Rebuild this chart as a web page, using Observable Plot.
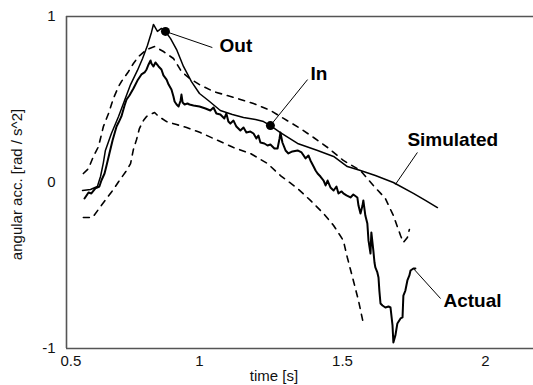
<!DOCTYPE html>
<html><head><meta charset="utf-8">
<script src="https://cdn.jsdelivr.net/npm/d3@7"></script>
<script src="https://cdn.jsdelivr.net/npm/@observablehq/plot@0.6"></script>
<style>body{margin:0;background:#fff}</style>
</head><body><div id="chart"></div>
<script>
// ---- axes ----
const xDomain = [0.535, 2.168];
const yDomain = [-1, 1];
const xTicks = [1, 1.5, 2];
const yTicks = [-1, 0, 1];
const firstXTickLabel = "0.5";
const xLabel = "time [s]";
const yLabel = "angular acc. [rad / s^2]";

// ---- Simulated (solid thin) ----
const simX = [0.591,0.619,0.643,0.654,0.664,0.671,0.692,0.717,0.738,0.759,0.783,0.801,0.818,0.832,0.839,0.853,0.867,0.881,0.899,0.920,0.944,0.972,1.000,1.031,1.073,1.115,1.154,1.196,1.224,1.248,1.283,1.343,1.413,1.469,1.517,1.563,1.615,1.678,1.748,1.790,1.832];
const simY = [-0.048,-0.042,-0.024,0.036,0.120,0.193,0.295,0.398,0.494,0.590,0.675,0.747,0.825,0.904,0.952,0.910,0.928,0.910,0.867,0.801,0.699,0.608,0.536,0.494,0.434,0.410,0.392,0.380,0.367,0.343,0.301,0.235,0.193,0.157,0.096,0.072,0.042,0.000,-0.066,-0.108,-0.151];

// ---- Actual (jagged thick) ----
const actX = [0.598,0.612,0.622,0.636,0.650,0.657,0.668,0.675,0.685,0.696,0.710,0.717,0.727,0.738,0.745,0.755,0.769,0.783,0.797,0.808,0.815,0.822,0.829,0.832,0.839,0.846,0.857,0.867,0.874,0.885,0.892,0.902,0.909,0.913,0.920,0.927,0.934,0.937,0.941,0.948,0.958,0.965,0.979,1.000,1.021,1.038,1.049,1.059,1.073,1.087,1.094,1.101,1.108,1.119,1.129,1.143,1.154,1.164,1.178,1.189,1.199,1.206,1.213,1.227,1.238,1.248,1.262,1.273,1.280,1.283,1.290,1.301,1.311,1.325,1.343,1.357,1.371,1.381,1.388,1.399,1.406,1.413,1.423,1.434,1.441,1.448,1.458,1.469,1.479,1.486,1.497,1.503,1.514,1.528,1.538,1.552,1.556,1.563,1.570,1.573,1.580,1.587,1.591,1.598,1.601,1.608,1.612,1.615,1.622,1.626,1.629,1.633,1.640,1.650,1.661,1.668,1.675,1.678,1.685,1.692,1.703,1.710,1.713,1.720,1.727,1.734,1.738,1.748,1.755];
const actY = [-0.096,-0.060,-0.066,-0.036,-0.024,0.012,0.054,0.102,0.175,0.253,0.337,0.361,0.398,0.464,0.500,0.524,0.566,0.614,0.651,0.663,0.681,0.711,0.735,0.717,0.699,0.723,0.699,0.681,0.645,0.620,0.590,0.560,0.518,0.488,0.470,0.458,0.494,0.530,0.482,0.470,0.476,0.470,0.464,0.458,0.446,0.434,0.452,0.416,0.410,0.386,0.416,0.367,0.355,0.373,0.337,0.313,0.331,0.301,0.307,0.295,0.265,0.283,0.241,0.235,0.223,0.229,0.205,0.205,0.265,0.301,0.241,0.193,0.175,0.187,0.193,0.181,0.145,0.163,0.133,0.096,0.072,0.054,0.036,0.012,-0.018,0.012,-0.030,-0.048,-0.024,-0.066,-0.054,-0.066,-0.078,-0.090,-0.072,-0.090,-0.139,-0.187,-0.139,-0.108,-0.199,-0.247,-0.349,-0.428,-0.301,-0.410,-0.482,-0.512,-0.542,-0.572,-0.651,-0.729,-0.741,-0.753,-0.747,-0.753,-0.861,-0.964,-0.922,-0.849,-0.819,-0.813,-0.681,-0.651,-0.590,-0.560,-0.530,-0.518,-0.518];

// ---- upper bound (dashed) ----
const upX = [0.594,0.612,0.629,0.647,0.664,0.682,0.699,0.717,0.727,0.752,0.769,0.787,0.815,0.843,0.874,0.909,0.937,0.965,1.000,1.049,1.133,1.189,1.248,1.294,1.353,1.399,1.448,1.503,1.563,1.608,1.650,1.678,1.703,1.713,1.727,1.734];
const upY = [0.054,0.084,0.157,0.217,0.337,0.416,0.506,0.578,0.608,0.669,0.717,0.759,0.801,0.819,0.789,0.747,0.669,0.627,0.590,0.548,0.506,0.476,0.434,0.386,0.325,0.271,0.211,0.133,0.072,-0.018,-0.096,-0.199,-0.319,-0.361,-0.331,-0.283];

// ---- lower bound (dashed) ----
const loX = [0.594,0.626,0.654,0.675,0.699,0.720,0.745,0.759,0.769,0.780,0.790,0.804,0.815,0.829,0.843,0.857,0.885,0.920,0.955,1.003,1.049,1.119,1.178,1.238,1.283,1.343,1.388,1.434,1.469,1.503,1.517,1.538,1.556,1.573];
const loY = [-0.211,-0.211,-0.145,-0.096,-0.042,0.012,0.072,0.114,0.199,0.259,0.325,0.373,0.398,0.410,0.422,0.398,0.367,0.349,0.331,0.301,0.265,0.211,0.175,0.114,0.042,-0.036,-0.108,-0.187,-0.259,-0.349,-0.452,-0.590,-0.711,-0.849];

// ---- marked points ----
const markerNames = ["Out", "In"];
const markerX = [0.881, 1.248];
const markerY = [0.910, 0.343];

// ---- annotations ----
const labelNames = ["Out", "In", "Simulated", "Actual"];
const leaderX1 = [0.881, 1.248, 1.685, 1.748];
const leaderY1 = [0.910, 0.343, -0.012, -0.518];
const leaderX2 = [1.045, 1.378, 1.762, 1.843];
const leaderY2 = [0.813, 0.620, 0.181, -0.699];
const labelX = [1.070, 1.388, 1.727, 1.853];
const labelY = [0.825, 0.657, 0.256, -0.711];

const zip = (xs, ys) => xs.map((x, i) => ({x, y: ys[i]}));
const sim = zip(simX, simY), act = zip(actX, actY), up = zip(upX, upY), lo = zip(loX, loY);
const markers = markerNames.map((n, i) => ({n, x: markerX[i], y: markerY[i]}));
const notes = labelNames.map((n, i) => ({n, x1: leaderX1[i], y1: leaderY1[i], x2: leaderX2[i], y2: leaderY2[i], lx: labelX[i], ly: labelY[i]}));

const font = "'Liberation Sans', Arial, Helvetica, sans-serif";
const frameColor = "#555";

const chart = Plot.plot({
  width: 533, height: 385,
  marginLeft: 66, marginRight: 0, marginTop: 16, marginBottom: 37,
  x: {domain: xDomain},
  y: {domain: yDomain},
  style: {fontFamily: font, fontSize: "15px", background: "#fff", color: "#111"},
  marks: [
    Plot.ruleY(yDomain, {stroke: frameColor, strokeWidth: 1.6}),
    Plot.ruleX([xDomain[0]], {stroke: frameColor, strokeWidth: 1.6}),
    Plot.axisX({ticks: xTicks, tickSize: 0, tickPadding: 7, label: null, tickFormat: d => String(d), fontSize: 15}),
    Plot.axisY({ticks: yTicks, tickSize: 0, tickPadding: 11, label: null, tickFormat: d => String(d), fontSize: 15}),
    Plot.text([firstXTickLabel], {x: () => xDomain[0], text: d => d, frameAnchor: "bottom", lineAnchor: "top", textAnchor: "start", dx: -6, dy: 7, fontSize: 15}),
    Plot.text([xLabel], {text: d => d, frameAnchor: "bottom", textAnchor: "middle", lineAnchor: "top", dy: 22, dx: -26, fontSize: 15}),
    Plot.text([yLabel], {text: d => d, frameAnchor: "left", textAnchor: "middle", rotate: -90, lineAnchor: "middle", dx: -49, dy: 2, fontSize: 15}),
    Plot.line(up, {x: "x", y: "y", stroke: "#000", strokeWidth: 1.6, strokeDasharray: "6,6"}),
    Plot.line(lo, {x: "x", y: "y", stroke: "#000", strokeWidth: 1.6, strokeDasharray: "6,6"}),
    Plot.line(sim, {x: "x", y: "y", stroke: "#000", strokeWidth: 1.5}),
    Plot.line(act, {x: "x", y: "y", stroke: "#000", strokeWidth: 2}),
    Plot.link(notes, {x1: "x1", y1: "y1", x2: "x2", y2: "y2", stroke: "#000", strokeWidth: 1}),
    Plot.dot(markers, {x: "x", y: "y", r: 4.5, fill: "#000"}),
    Plot.text(notes, {x: "lx", y: "ly", text: "n", textAnchor: "start", lineAnchor: "middle", fontSize: 19, fontWeight: "bold", fill: "#000"})
  ]
});
document.getElementById("chart").appendChild(chart);
</script>
</body></html>
